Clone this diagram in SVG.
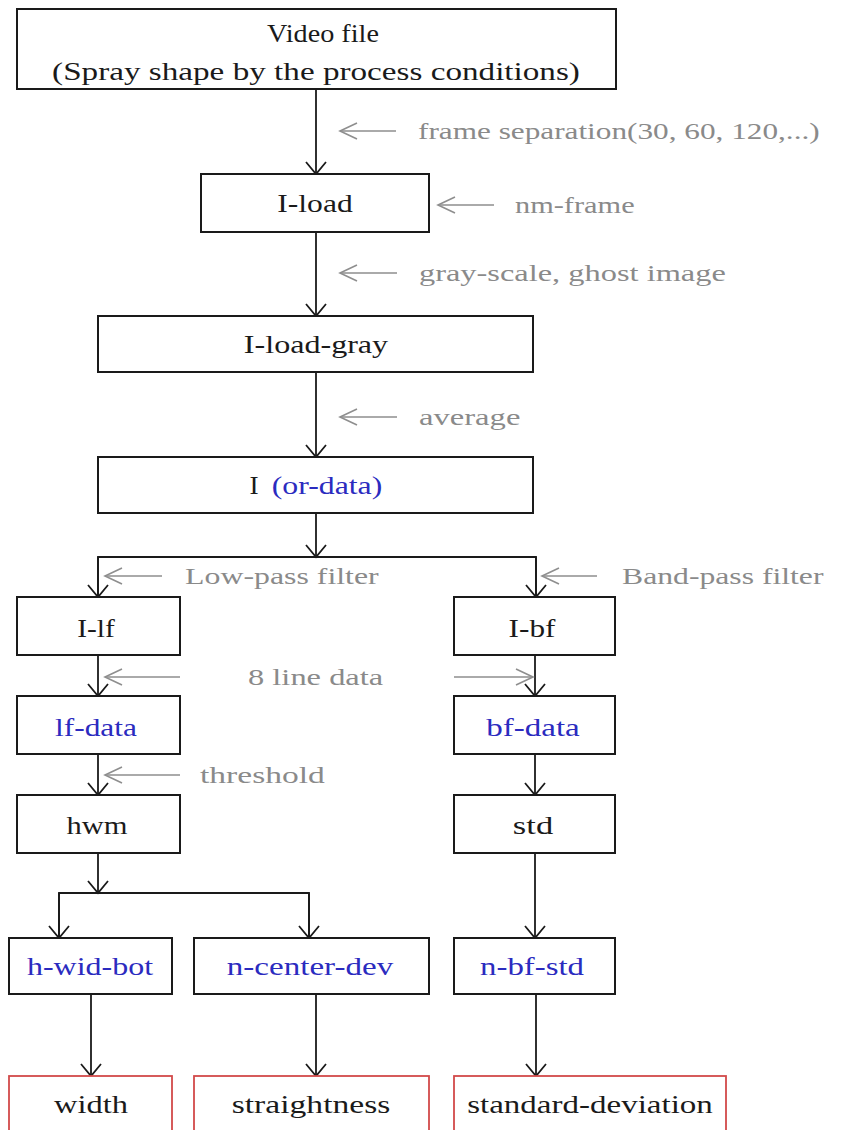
<svg xmlns="http://www.w3.org/2000/svg" width="842" height="1130" viewBox="0 0 842 1130">
  <style>
    .box { fill: #ffffff; stroke: #1a1a1a; stroke-width: 2; }
    .out { fill: #ffffff; stroke: #d24a4a; stroke-width: 1.8; }
    .t { font-family: "Liberation Serif", "Times New Roman", serif; font-size: 25px; fill: #1a1a1a; text-anchor: middle; }
    .b { fill: #2b2bbf; }
    .lbl { font-family: "Liberation Serif", "Times New Roman", serif; font-size: 24px; fill: #8a8a8a; }
    .wire { fill: none; stroke: #1a1a1a; stroke-width: 1.8; }
    .hint { fill: none; stroke: #8e8e8e; stroke-width: 1.6; }
  </style>
  <defs>
    <marker id="ah" markerUnits="userSpaceOnUse" viewBox="-14 -12 16 24" refX="0" refY="0" markerWidth="16" markerHeight="24" orient="auto" overflow="visible">
      <path d="M -12 -10 L 0 0 L -12 10" fill="none" stroke="#1a1a1a" stroke-width="1.8"/>
    </marker>
    <marker id="gh" markerUnits="userSpaceOnUse" viewBox="-20 -10 22 20" refX="0" refY="0" markerWidth="22" markerHeight="20" orient="auto" overflow="visible">
      <path d="M -17 -8 L 0 0 L -17 8" fill="none" stroke="#8e8e8e" stroke-width="1.6"/>
    </marker>
  </defs>
  <rect width="842" height="1130" fill="#ffffff"/>

  <!-- flow connectors -->
  <g id="connectors">
    <line class="wire" x1="316" y1="89" x2="316" y2="174" marker-end="url(#ah)"/>
    <line class="wire" x1="316" y1="232" x2="316" y2="316" marker-end="url(#ah)"/>
    <line class="wire" x1="316" y1="372" x2="316" y2="457" marker-end="url(#ah)"/>
    <line class="wire" x1="316" y1="513" x2="316" y2="557" marker-end="url(#ah)"/>
    <polyline class="wire" points="98,597 98,557 536,557 536,597"/>
    <line class="wire" x1="98" y1="557" x2="98" y2="597" marker-end="url(#ah)"/>
    <line class="wire" x1="536" y1="557" x2="536" y2="597" marker-end="url(#ah)"/>
    <line class="wire" x1="98" y1="655" x2="98" y2="696" marker-end="url(#ah)"/>
    <line class="wire" x1="535" y1="655" x2="535" y2="696" marker-end="url(#ah)"/>
    <line class="wire" x1="98" y1="754" x2="98" y2="795" marker-end="url(#ah)"/>
    <line class="wire" x1="535" y1="754" x2="535" y2="795" marker-end="url(#ah)"/>
    <line class="wire" x1="98" y1="853" x2="98" y2="893" marker-end="url(#ah)"/>
    <polyline class="wire" points="59,938 59,893 309,893 309,938"/>
    <line class="wire" x1="59" y1="893" x2="59" y2="938" marker-end="url(#ah)"/>
    <line class="wire" x1="309" y1="893" x2="309" y2="938" marker-end="url(#ah)"/>
    <line class="wire" x1="535" y1="853" x2="535" y2="938" marker-end="url(#ah)"/>
    <line class="wire" x1="91" y1="994" x2="91" y2="1076" marker-end="url(#ah)"/>
    <line class="wire" x1="316" y1="994" x2="316" y2="1076" marker-end="url(#ah)"/>
    <line class="wire" x1="536" y1="994" x2="536" y2="1076" marker-end="url(#ah)"/>
  </g>

  <!-- processing-step annotations; glyphs widened 1.3x horizontally -->
  <g id="annotations">
    <line class="hint" x1="396" y1="131" x2="340" y2="131" marker-end="url(#gh)"/>
    <text class="lbl" transform="translate(418 139) scale(1.3 1)" textLength="309" lengthAdjust="spacingAndGlyphs">frame  separation(30, 60, 120,...)</text>
    <line class="hint" x1="494" y1="205" x2="438" y2="205" marker-end="url(#gh)"/>
    <text class="lbl" transform="translate(515 213) scale(1.3 1)" textLength="92" lengthAdjust="spacingAndGlyphs">nm-frame</text>
    <line class="hint" x1="397" y1="273" x2="340" y2="273" marker-end="url(#gh)"/>
    <text class="lbl" transform="translate(419 281) scale(1.3 1)" textLength="236" lengthAdjust="spacingAndGlyphs">gray-scale, ghost image</text>
    <line class="hint" x1="397" y1="417" x2="340" y2="417" marker-end="url(#gh)"/>
    <text class="lbl" transform="translate(419 425) scale(1.3 1)" textLength="78" lengthAdjust="spacingAndGlyphs">average</text>
    <line class="hint" x1="162" y1="576" x2="105" y2="576" marker-end="url(#gh)"/>
    <text class="lbl" transform="translate(185 584) scale(1.3 1)" textLength="149" lengthAdjust="spacingAndGlyphs">Low-pass filter</text>
    <line class="hint" x1="597" y1="576" x2="542" y2="576" marker-end="url(#gh)"/>
    <text class="lbl" transform="translate(622 584) scale(1.3 1)" textLength="155" lengthAdjust="spacingAndGlyphs">Band-pass filter</text>
    <line class="hint" x1="180" y1="677" x2="105" y2="677" marker-end="url(#gh)"/>
    <line class="hint" x1="454" y1="677" x2="533" y2="677" marker-end="url(#gh)"/>
    <text class="lbl" transform="translate(248 685) scale(1.3 1)" textLength="104" lengthAdjust="spacingAndGlyphs">8  line  data</text>
    <line class="hint" x1="180" y1="775" x2="105" y2="775" marker-end="url(#gh)"/>
    <text class="lbl" transform="translate(200 783) scale(1.3 1)" textLength="96" lengthAdjust="spacingAndGlyphs">threshold</text>
  </g>

  <g id="video-file">
    <rect class="box" x="17" y="9" width="599" height="80"/>
    <text class="t" transform="translate(323 42) scale(1.3 1)" textLength="86" lengthAdjust="spacingAndGlyphs">Video file</text>
    <text class="t" transform="translate(316 80) scale(1.3 1)" textLength="406" lengthAdjust="spacingAndGlyphs">(Spray  shape by the process conditions)</text>
  </g>
  <g id="i-load">
    <rect class="box" x="201" y="174" width="228" height="58"/>
    <text class="t" transform="translate(315 212) scale(1.3 1)" textLength="58" lengthAdjust="spacingAndGlyphs">I-load</text>
  </g>
  <g id="i-load-gray">
    <rect class="box" x="98" y="316" width="435" height="56"/>
    <text class="t" transform="translate(316 353) scale(1.3 1)" textLength="111" lengthAdjust="spacingAndGlyphs">I-load-gray</text>
  </g>
  <g id="i-or-data">
    <rect class="box" x="98" y="457" width="435" height="56"/>
    <text class="t" transform="translate(254 494) scale(1.3 1)" textLength="7" lengthAdjust="spacingAndGlyphs">I</text>
    <text class="t b" transform="translate(327 494) scale(1.3 1)" textLength="85" lengthAdjust="spacingAndGlyphs">(or-data)</text>
  </g>
  <g id="i-lf">
    <rect class="box" x="17" y="597" width="163" height="58"/>
    <text class="t" transform="translate(96 637) scale(1.3 1)" textLength="29" lengthAdjust="spacingAndGlyphs">I-lf</text>
  </g>
  <g id="i-bf">
    <rect class="box" x="454" y="597" width="161" height="58"/>
    <text class="t" transform="translate(532 637) scale(1.3 1)" textLength="36" lengthAdjust="spacingAndGlyphs">I-bf</text>
  </g>
  <g id="lf-data">
    <rect class="box" x="17" y="696" width="163" height="58"/>
    <text class="t b" transform="translate(96 736) scale(1.3 1)" textLength="63" lengthAdjust="spacingAndGlyphs">lf-data</text>
  </g>
  <g id="bf-data">
    <rect class="box" x="454" y="696" width="161" height="58"/>
    <text class="t b" transform="translate(533 736) scale(1.3 1)" textLength="72" lengthAdjust="spacingAndGlyphs">bf-data</text>
  </g>
  <g id="hwm">
    <rect class="box" x="17" y="795" width="163" height="58"/>
    <text class="t" transform="translate(97 834) scale(1.3 1)" textLength="47" lengthAdjust="spacingAndGlyphs">hwm</text>
  </g>
  <g id="std">
    <rect class="box" x="454" y="795" width="161" height="58"/>
    <text class="t" transform="translate(533 834) scale(1.3 1)" textLength="31" lengthAdjust="spacingAndGlyphs">std</text>
  </g>
  <g id="h-wid-bot">
    <rect class="box" x="9" y="938" width="163" height="56"/>
    <text class="t b" transform="translate(90 975) scale(1.3 1)" textLength="97" lengthAdjust="spacingAndGlyphs">h-wid-bot</text>
  </g>
  <g id="n-center-dev">
    <rect class="box" x="194" y="938" width="235" height="56"/>
    <text class="t b" transform="translate(310 975) scale(1.3 1)" textLength="128" lengthAdjust="spacingAndGlyphs">n-center-dev</text>
  </g>
  <g id="n-bf-std">
    <rect class="box" x="454" y="938" width="161" height="56"/>
    <text class="t b" transform="translate(532 975) scale(1.3 1)" textLength="80" lengthAdjust="spacingAndGlyphs">n-bf-std</text>
  </g>
  <g id="width">
    <rect class="out" x="9" y="1076" width="163" height="70"/>
    <text class="t" transform="translate(91 1113) scale(1.3 1)" textLength="57" lengthAdjust="spacingAndGlyphs">width</text>
  </g>
  <g id="straightness">
    <rect class="out" x="194" y="1076" width="235" height="70"/>
    <text class="t" transform="translate(311 1113) scale(1.3 1)" textLength="122" lengthAdjust="spacingAndGlyphs">straightness</text>
  </g>
  <g id="standard-deviation">
    <rect class="out" x="454" y="1076" width="272" height="70"/>
    <text class="t" transform="translate(590 1113) scale(1.3 1)" textLength="189" lengthAdjust="spacingAndGlyphs">standard-deviation</text>
  </g>
</svg>
